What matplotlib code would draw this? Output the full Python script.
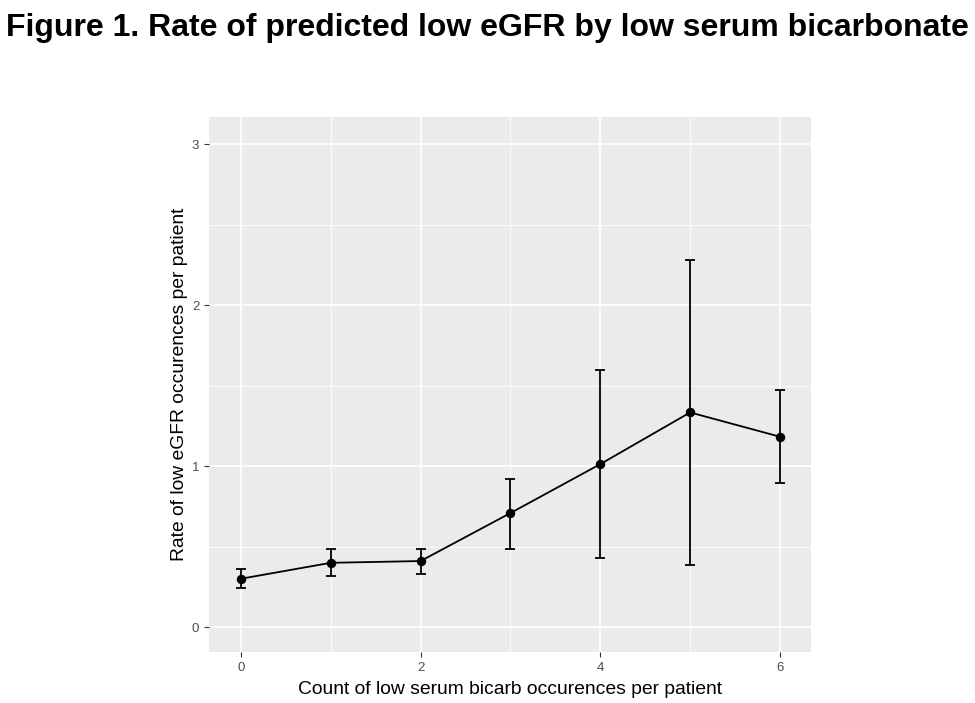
import matplotlib
matplotlib.use("Agg")
import matplotlib.pyplot as plt
import numpy as np

counts = [0, 1, 2, 3, 4, 5, 6]
rate = [0.300, 0.399, 0.410, 0.708, 1.012, 1.333, 1.182]
lower = [0.242, 0.317, 0.329, 0.484, 0.430, 0.383, 0.892]
upper = [0.358, 0.483, 0.486, 0.919, 1.596, 2.281, 1.472]

x_ticks = [0, 2, 4, 6]
y_ticks = [0, 1, 2, 3]

plt.rcParams['font.family'] = ['Liberation Sans', 'DejaVu Sans']

fig = plt.figure(figsize=(9.75, 7.03), dpi=100)
fig.patch.set_facecolor('white')
ax = fig.add_axes([209/975, 51/703, 602/975, 535/703])
ax.set_facecolor('#EBEBEB')

ax.set_xlim(-0.355, 6.345)
ax.set_ylim(-0.155, 3.168)

for yv in [0.5, 1.5, 2.5]:
    ax.axhline(yv, color='white', lw=0.6, zorder=0)
for xv in [1, 3, 5]:
    ax.axvline(xv, color='white', lw=0.6, zorder=0)
for yv in y_ticks:
    ax.axhline(yv, color='white', lw=1.2, zorder=0)
for xv in x_ticks:
    ax.axvline(xv, color='white', lw=1.2, zorder=0)

x = np.array(counts)
r = np.array(rate)
lo = np.array(lower)
hi = np.array(upper)
ax.errorbar(x, r, yerr=[r - lo, hi - r], fmt='none', ecolor='black',
            elinewidth=1.3, capsize=3.3, capthick=1.3, zorder=2)
ax.plot(x, r, color='black', lw=1.3, zorder=3)
ax.plot(x, r, 'o', color='black', markersize=5.8, zorder=4)

ax.set_xticks(x_ticks)
ax.set_yticks(y_ticks)
ax.tick_params(axis='both', colors='#333333', labelcolor='#4D4D4D',
               labelsize=9.5, length=3.5, width=0.8)
for s in ax.spines.values():
    s.set_visible(False)

ax.set_xlabel('Count of low serum bicarb occurences per patient',
              fontsize=13.9, color='black', labelpad=5)
ax.set_ylabel('Rate of low eGFR occurences per patient',
              fontsize=13.9, color='black', labelpad=3)

fig.text(0.5, 1 - 28/703, 'Figure 1. Rate of predicted low eGFR by low serum bicarbonate',
         ha='center', va='center', fontsize=23, fontweight='bold', color='black')

fig.savefig('out.png', dpi=100)
